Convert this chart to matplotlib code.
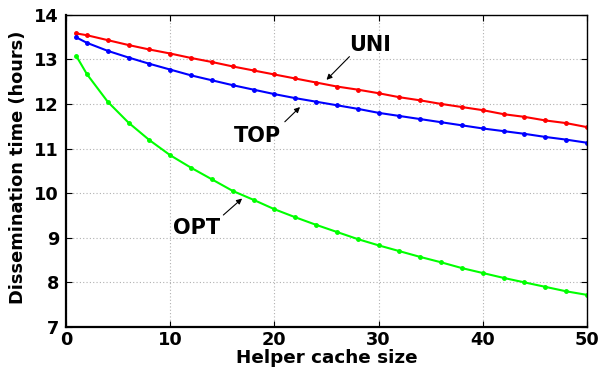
import matplotlib
matplotlib.use("Agg")
import matplotlib.pyplot as plt

x = [1, 2, 4, 6, 8, 10, 12, 14, 16, 18, 20, 22, 24, 26, 28, 30, 32, 34, 36, 38, 40, 42, 44, 46, 48, 50]
uni = [13.58, 13.54, 13.43, 13.32, 13.22, 13.13, 13.03, 12.94, 12.84, 12.75, 12.66, 12.57, 12.48,
       12.39, 12.32, 12.24, 12.15, 12.08, 12.00, 11.93, 11.86, 11.77, 11.71, 11.63, 11.57, 11.48]
top = [13.49, 13.37, 13.19, 13.04, 12.90, 12.77, 12.64, 12.53, 12.42, 12.32, 12.22, 12.13, 12.05,
       11.97, 11.89, 11.80, 11.73, 11.66, 11.59, 11.52, 11.45, 11.39, 11.33, 11.26, 11.20, 11.13]
opt = [13.07, 12.67, 12.05, 11.58, 11.19, 10.85, 10.57, 10.31, 10.05, 9.85, 9.64, 9.46, 9.29,
       9.13, 8.97, 8.83, 8.70, 8.57, 8.45, 8.32, 8.21, 8.10, 8.00, 7.90, 7.80, 7.72]
xticks = [0, 10, 20, 30, 40, 50]
yticks = [7, 8, 9, 10, 11, 12, 13, 14]

plt.rcParams['font.family'] = ['DejaVu Sans']
plt.rcParams['font.weight'] = 'bold'

fig = plt.figure(figsize=(6.02, 3.67), dpi=100)
ax = fig.add_axes([66/602, 1-327/367, (587-66)/602, (327-14.7)/367])

ax.plot(x, uni, color='#ff0000', lw=1.5, marker='o', ms=2.5)
ax.plot(x, top, color='#0000ff', lw=1.5, marker='o', ms=2.5)
ax.plot(x, opt, color='#00ff00', lw=1.5, marker='o', ms=2.5)

ax.set_xlim(0, 50)
ax.set_ylim(7, 14)
ax.set_xticks(xticks)
ax.set_yticks(yticks)
ax.tick_params(direction='in', top=True, right=True, labelsize=12.8, length=4)
ax.tick_params(axis='x', pad=3)
ax.tick_params(axis='y', pad=5)
for lab in ax.get_xticklabels() + ax.get_yticklabels():
    lab.set_fontweight('bold')
ax.grid(True, linestyle=(0, (1, 2)), color='#b0b0b0', lw=0.8)
for s in ['left', 'bottom']:
    ax.spines[s].set_linewidth(1.6)
for s in ['top', 'right']:
    ax.spines[s].set_linewidth(1.0)

ax.set_xlabel('Helper cache size', fontsize=13.2, fontweight='bold')
ax.set_ylabel('Dissemination time (hours)', fontsize=12.8, fontweight='bold')
ax.xaxis.set_label_coords(0.5, -0.0715)
ax.yaxis.set_label_coords(-0.074, 0.51)

ap = dict(arrowstyle='-|>', color='black', lw=0.8, mutation_scale=8, shrinkA=0, shrinkB=0)
ax.annotate('', xy=(25.0, 12.54), xytext=(27.2, 13.06), arrowprops=ap)
ax.text(29.2, 13.32, 'UNI', fontsize=15, fontweight='bold', ha='center', va='center')
ax.annotate('', xy=(22.46, 11.93), xytext=(21.0, 11.60), arrowprops=ap)
ax.text(18.4, 11.29, 'TOP', fontsize=15, fontweight='bold', ha='center', va='center')
ax.annotate('', xy=(16.9, 9.88), xytext=(15.1, 9.51), arrowprops=ap)
ax.text(12.57, 9.22, 'OPT', fontsize=15, fontweight='bold', ha='center', va='center')

fig.savefig('out.png', dpi=100)
